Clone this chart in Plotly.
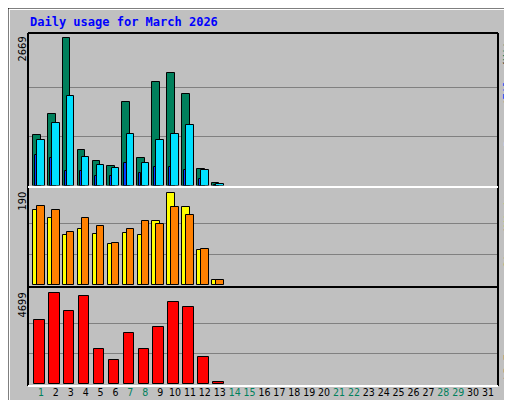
import plotly.graph_objects as go

days = list(range(1, 32))
weekend = [1, 7, 8, 14, 15, 21, 22, 28, 29]

# values for days 1..13 (rest of the month has no data yet)
hits = [913, 1293, 2669, 641, 442, 351, 1510, 496, 1872, 2035, 1655, 297, 49]
files = [556, 496, 261, 261, 170, 170, 406, 224, 333, 333, 279, 116, 10]
pages = [822, 1130, 1619, 514, 369, 315, 931, 406, 822, 931, 1094, 279, 25]
visits = [155, 139, 104, 116, 105, 85, 108, 104, 132, 190, 161, 72, 10]
sites = [163, 155, 109, 139, 122, 87, 116, 132, 126, 161, 145, 74, 10]
kbytes = [3310, 4699, 3773, 4545, 1818, 1252, 2641, 1818, 2950, 4236, 3979, 1406, 120]

max1, max2, max3 = 2669, 190, 4699
d = days[:len(hits)]

fig = go.Figure()

def bar(y, color, axis, offset, width):
    fig.add_trace(go.Bar(x=d, y=y, marker=dict(color=color, line=dict(color='black', width=1)),
                         xaxis='x', yaxis=axis, offset=offset, width=width, showlegend=False))

bar(hits, '#00805c', 'y', -0.54, 0.52)
bar(files, '#0040ff', 'y', -0.40, 0.14)
bar(pages, '#00e0ff', 'y', -0.25, 0.5)
bar(visits, '#ffff00', 'y2', -0.52, 0.5)
bar(sites, '#ff8000', 'y2', -0.25, 0.5)
bar(kbytes, '#ff0000', 'y3', -0.45, 0.7)

ticktext = [f'<span style="color:#00805c">{i}</span>' if i in weekend else str(i) for i in days]

grid = dict(showticklabels=False, ticks='', gridcolor='#808080', gridwidth=1,
            zeroline=False, showline=False, fixedrange=True)

fig.update_layout(
    width=512, height=400, margin=dict(l=0, r=0, t=0, b=0),
    paper_bgcolor='#c0c0c0', plot_bgcolor='#c0c0c0', barmode='overlay', bargap=0,
    font=dict(family='DejaVu Sans Condensed, DejaVu Sans', size=11, color='black'),
    xaxis=dict(domain=[20 / 512, 490 / 512], range=[0.13, 31.67], tickvals=days, ticktext=ticktext,
               ticks='', showgrid=False, zeroline=False, anchor='y3', tickangle=0,
               tickfont=dict(size=10.5)),
    yaxis=dict(domain=[1 - 177.5 / 400, 1 - 25 / 400], range=[0, 2761],
               tickvals=[max1 / 3, 2 * max1 / 3], **grid),
    yaxis2=dict(domain=[1 - 277 / 400, 1 - 181 / 400], range=[0, 199],
                tickvals=[max2 / 3, 2 * max2 / 3], **grid),
    yaxis3=dict(domain=[1 - 376 / 400, 1 - 281 / 400], range=[0, 4885],
                tickvals=[max3 / 3, 2 * max3 / 3], **grid),
)

def px(x0, y0, x1, y1, color, w=1):
    fig.add_shape(type='line', xref='paper', yref='paper', x0=x0 / 512, x1=x1 / 512,
                  y0=1 - y0 / 400, y1=1 - y1 / 400, line=dict(color=color, width=w))

# outer bevel frame
px(1, 1, 511, 1, 'white', 2)
px(1, 1, 1, 399, 'white', 2)
px(3, 395, 511, 395, '#808080', 3)
px(509, 3, 509, 396, '#808080', 3)
fig.add_shape(type='rect', xref='paper', yref='paper', x0=0, x1=1, y0=0, y1=1,
              line=dict(color='black', width=1))

# panel frames
px(20, 25, 490, 25, 'black', 2)
px(20, 25, 20, 378, 'black', 2)
px(490, 25, 490, 378, 'black', 2)
px(20, 179, 490, 179, 'white', 2)
px(20, 279, 490, 279, 'black', 2)
px(20, 378, 490, 378, 'white', 2)

fig.add_annotation(text='<b>Daily usage for March 2026</b>', xref='paper', yref='paper',
                   x=20 / 512, y=1 - 14 / 400, xanchor='left', yanchor='middle', showarrow=False,
                   font=dict(family='DejaVu Sans Mono', size=12, color='#0000ff'))

for val, ytop in [(max1, 27), (max2, 182), (max3, 283)]:
    fig.add_annotation(text=str(val), xref='paper', yref='paper', x=14 / 512, y=1 - ytop / 400,
                       xanchor='center', yanchor='top', textangle=-90, showarrow=False,
                       font=dict(size=11, color='black'))

# right-hand legend words: (text, colour, centre y in px)
legend_words = [
    ('Hits', '#00805c', 40), ('/', '#000000', 57), ('Files', '#0040ff', 76),
    ('/', '#000000', 96), ('Pages', '#00e0ff', 123),
    ('Visits', '#ffff00', 199), ('/', '#000000', 224), ('Sites', '#ff8000', 244),
    ('F', '#ff0000', 350), ('kB', '#ff0000', 365),
]
for txt, col, yc in legend_words:
    fig.add_annotation(text=txt, xref='paper', yref='paper', x=500 / 512, y=1 - yc / 400,
                       xanchor='center', yanchor='middle', textangle=-90, showarrow=False,
                       font=dict(family='DejaVu Sans Mono', size=11, color=col))

fig.write_html("out.html")
